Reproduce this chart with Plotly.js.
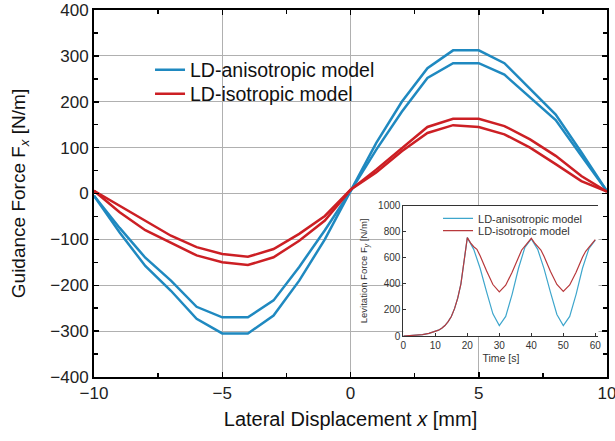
<!DOCTYPE html>
<html>
<head>
<meta charset="utf-8">
<script src="https://cdn.plot.ly/plotly-3.0.1.min.js"></script>
<style>html,body{margin:0;padding:0;background:#fff;}#chart{width:615px;height:441px;}</style>
</head>
<body>
<div id="chart"></div>
<script>
// Main chart: lateral displacement [mm]
const displacement = [-10,-9,-8,-7,-6,-5,-4,-3,-2,-1,0,1,2,3,4,5,6,7,8,9,10];
// LD-anisotropic model (two branches)
const anisoBranchA = [-5,-85,-158,-212,-273,-305,-305,-266,-190,-100,5,110,200,273,312,312,284,227,172,90,5];
const anisoBranchB = [-5,-75,-140,-190,-247,-270,-270,-233,-160,-80,5,95,178,252,284,284,259,209,160,82,5];
// LD-isotropic model (two branches)
const isoBranchA = [6,-41,-80,-108,-135,-150,-156,-139,-103,-59,8,52,98,145,163,163,147,118,82,38,4];
const isoBranchB = [6,-27,-59,-92,-117,-132,-138,-121,-88,-49,8,46,92,132,149,145,129,100,64,27,4];

// Inset: levitation force vs time
const timeAniso = [0,2,4,6,8,10,11,12,13,14,15,16,17,18,19,20,22,24,26,28,30,32,34,36,38,40,42,44,46,48,50,52,54,56,58,60];
const forceAniso = [0,2,5,10,20,35,45,60,80,110,150,210,290,400,560,755,665,520,340,170,80,150,320,520,680,745,665,515,335,165,80,150,320,520,670,735];
const timeIso = [0,2,4,6,8,10,11,12,13,14,15,16,17,18,19,20,21,22,23,24,26,28,30,32,34,36,37,38,39,40,41,42,43,44,46,48,50,52,54,56,57,58,59,60];
const forceIso = [0,2,5,10,20,35,45,60,80,110,150,210,290,400,560,755,715,685,665,615,500,395,338,390,490,610,660,690,720,750,715,685,660,610,495,395,342,392,490,605,650,680,710,740];

const seriesNames = ['LD-anisotropic model','LD-isotropic model'];
const blueMain = '#1f89c0', redMain = '#cc1f24';
const blueInset = '#3ea6cc', redInset = '#b8393c';
const FONT = 'Liberation Sans, Arial, sans-serif';

const traces = [
  {x: displacement, y: anisoBranchA, mode:'lines', name: seriesNames[0], line:{color: blueMain, width:2.5}, showlegend:true, legend:'legend'},
  {x: displacement, y: anisoBranchB, mode:'lines', name: seriesNames[0], line:{color: blueMain, width:2.5}, showlegend:false},
  {x: displacement, y: isoBranchA, mode:'lines', name: seriesNames[1], line:{color: redMain, width:2.5}, showlegend:true, legend:'legend2'},
  {x: displacement, y: isoBranchB, mode:'lines', name: seriesNames[1], line:{color: redMain, width:2.5}, showlegend:false},
  {x: timeAniso, y: forceAniso, xaxis:'x2', yaxis:'y2', mode:'lines', name: seriesNames[0], line:{color: blueInset, width:1.2}, showlegend:true, legend:'legend3'},
  {x: timeIso, y: forceIso, xaxis:'x2', yaxis:'y2', mode:'lines', name: seriesNames[1], line:{color: redInset, width:1.2}, showlegend:true, legend:'legend4'}
];

const mainLegendFont = {size:19.5, color:'#111', family:FONT};
const insetLegendFont = {size:11, color:'#333', family:FONT};

const layout = {
  width:615, height:441,
  margin:{l:94, r:8, t:10, b:64},
  paper_bgcolor:'#fff', plot_bgcolor:'#fff',
  font:{family: FONT, color:'#222'},
  xaxis:{
    range:[-10,10], tick0:-10, dtick:5, ticks:'inside', ticklen:5, tickwidth:1.5, tickcolor:'#000',
    showline:true, linewidth:2, linecolor:'#000', mirror:'ticks',
    showgrid:true, gridcolor:'#b0b0b0', gridwidth:1, zeroline:false,
    minor:{ticks:'inside', dtick:2.5, ticklen:4, tickwidth:1.5, tickcolor:'#000', showgrid:false},
    tickfont:{size:17, color:'#222', family:FONT}, ticklabeloverflow:'allow',
    title:{text:'Lateral Displacement <i>x</i> [mm]', font:{size:20, color:'#111', family:FONT}, standoff:10}
  },
  yaxis:{
    range:[-400,400], tick0:-400, dtick:100, ticks:'inside', ticklen:5, tickwidth:1.5, tickcolor:'#000',
    showline:true, linewidth:2, linecolor:'#000', mirror:'ticks',
    showgrid:true, gridcolor:'#b0b0b0', gridwidth:1, zeroline:false,
    minor:{ticks:'inside', dtick:50, ticklen:4, tickwidth:1.5, tickcolor:'#000', showgrid:false},
    tickfont:{size:17, color:'#222', family:FONT}, ticklabeloverflow:'allow',
    title:{text:'Guidance Force F<sub><i>x</i></sub> [N/m]', font:{size:19, color:'#111', family:FONT}, standoff:20}
  },
  xaxis2:{
    domain:[0.603, 0.9834], anchor:'y2', range:[0,61], tick0:0, dtick:10,
    ticks:'inside', ticklen:3, tickwidth:1, tickcolor:'#333',
    showline:true, linewidth:1, linecolor:'#333', mirror:true,
    showgrid:false, zeroline:false,
    tickfont:{size:10, color:'#333', family:FONT}, ticklabeloverflow:'allow',
    title:{text:'Time [s]', font:{size:10.5, color:'#333', family:FONT}, standoff:4}
  },
  yaxis2:{
    domain:[0.1117, 0.4668], anchor:'x2', range:[0,1000], tick0:0, dtick:200,
    ticks:'inside', ticklen:3, tickwidth:1, tickcolor:'#333',
    showline:true, linewidth:1, linecolor:'#333', mirror:false,
    showgrid:false, zeroline:false,
    tickfont:{size:10, color:'#333', family:FONT}, ticklabeloverflow:'allow',
    title:{text:'Levitation Force F<sub><i>y</i></sub> [N/m]', font:{size:9.5, color:'#333', family:FONT}, standoff:8}
  },
  legend:{x:0.1092, xanchor:'left', y:0.8365, yanchor:'middle', bgcolor:'rgba(0,0,0,0)', borderwidth:0, font:mainLegendFont},
  legend2:{x:0.1092, xanchor:'left', y:0.7711, yanchor:'middle', bgcolor:'rgba(0,0,0,0)', borderwidth:0, font:mainLegendFont},
  legend3:{x:0.6706, xanchor:'left', y:0.4324, yanchor:'middle', bgcolor:'rgba(0,0,0,0)', borderwidth:0, font:insetLegendFont},
  legend4:{x:0.6706, xanchor:'left', y:0.3986, yanchor:'middle', bgcolor:'rgba(0,0,0,0)', borderwidth:0, font:insetLegendFont},
  showlegend:true
};

Plotly.newPlot('chart', traces, layout, {displayModeBar:false, staticPlot:true});
</script>
</body>
</html>
